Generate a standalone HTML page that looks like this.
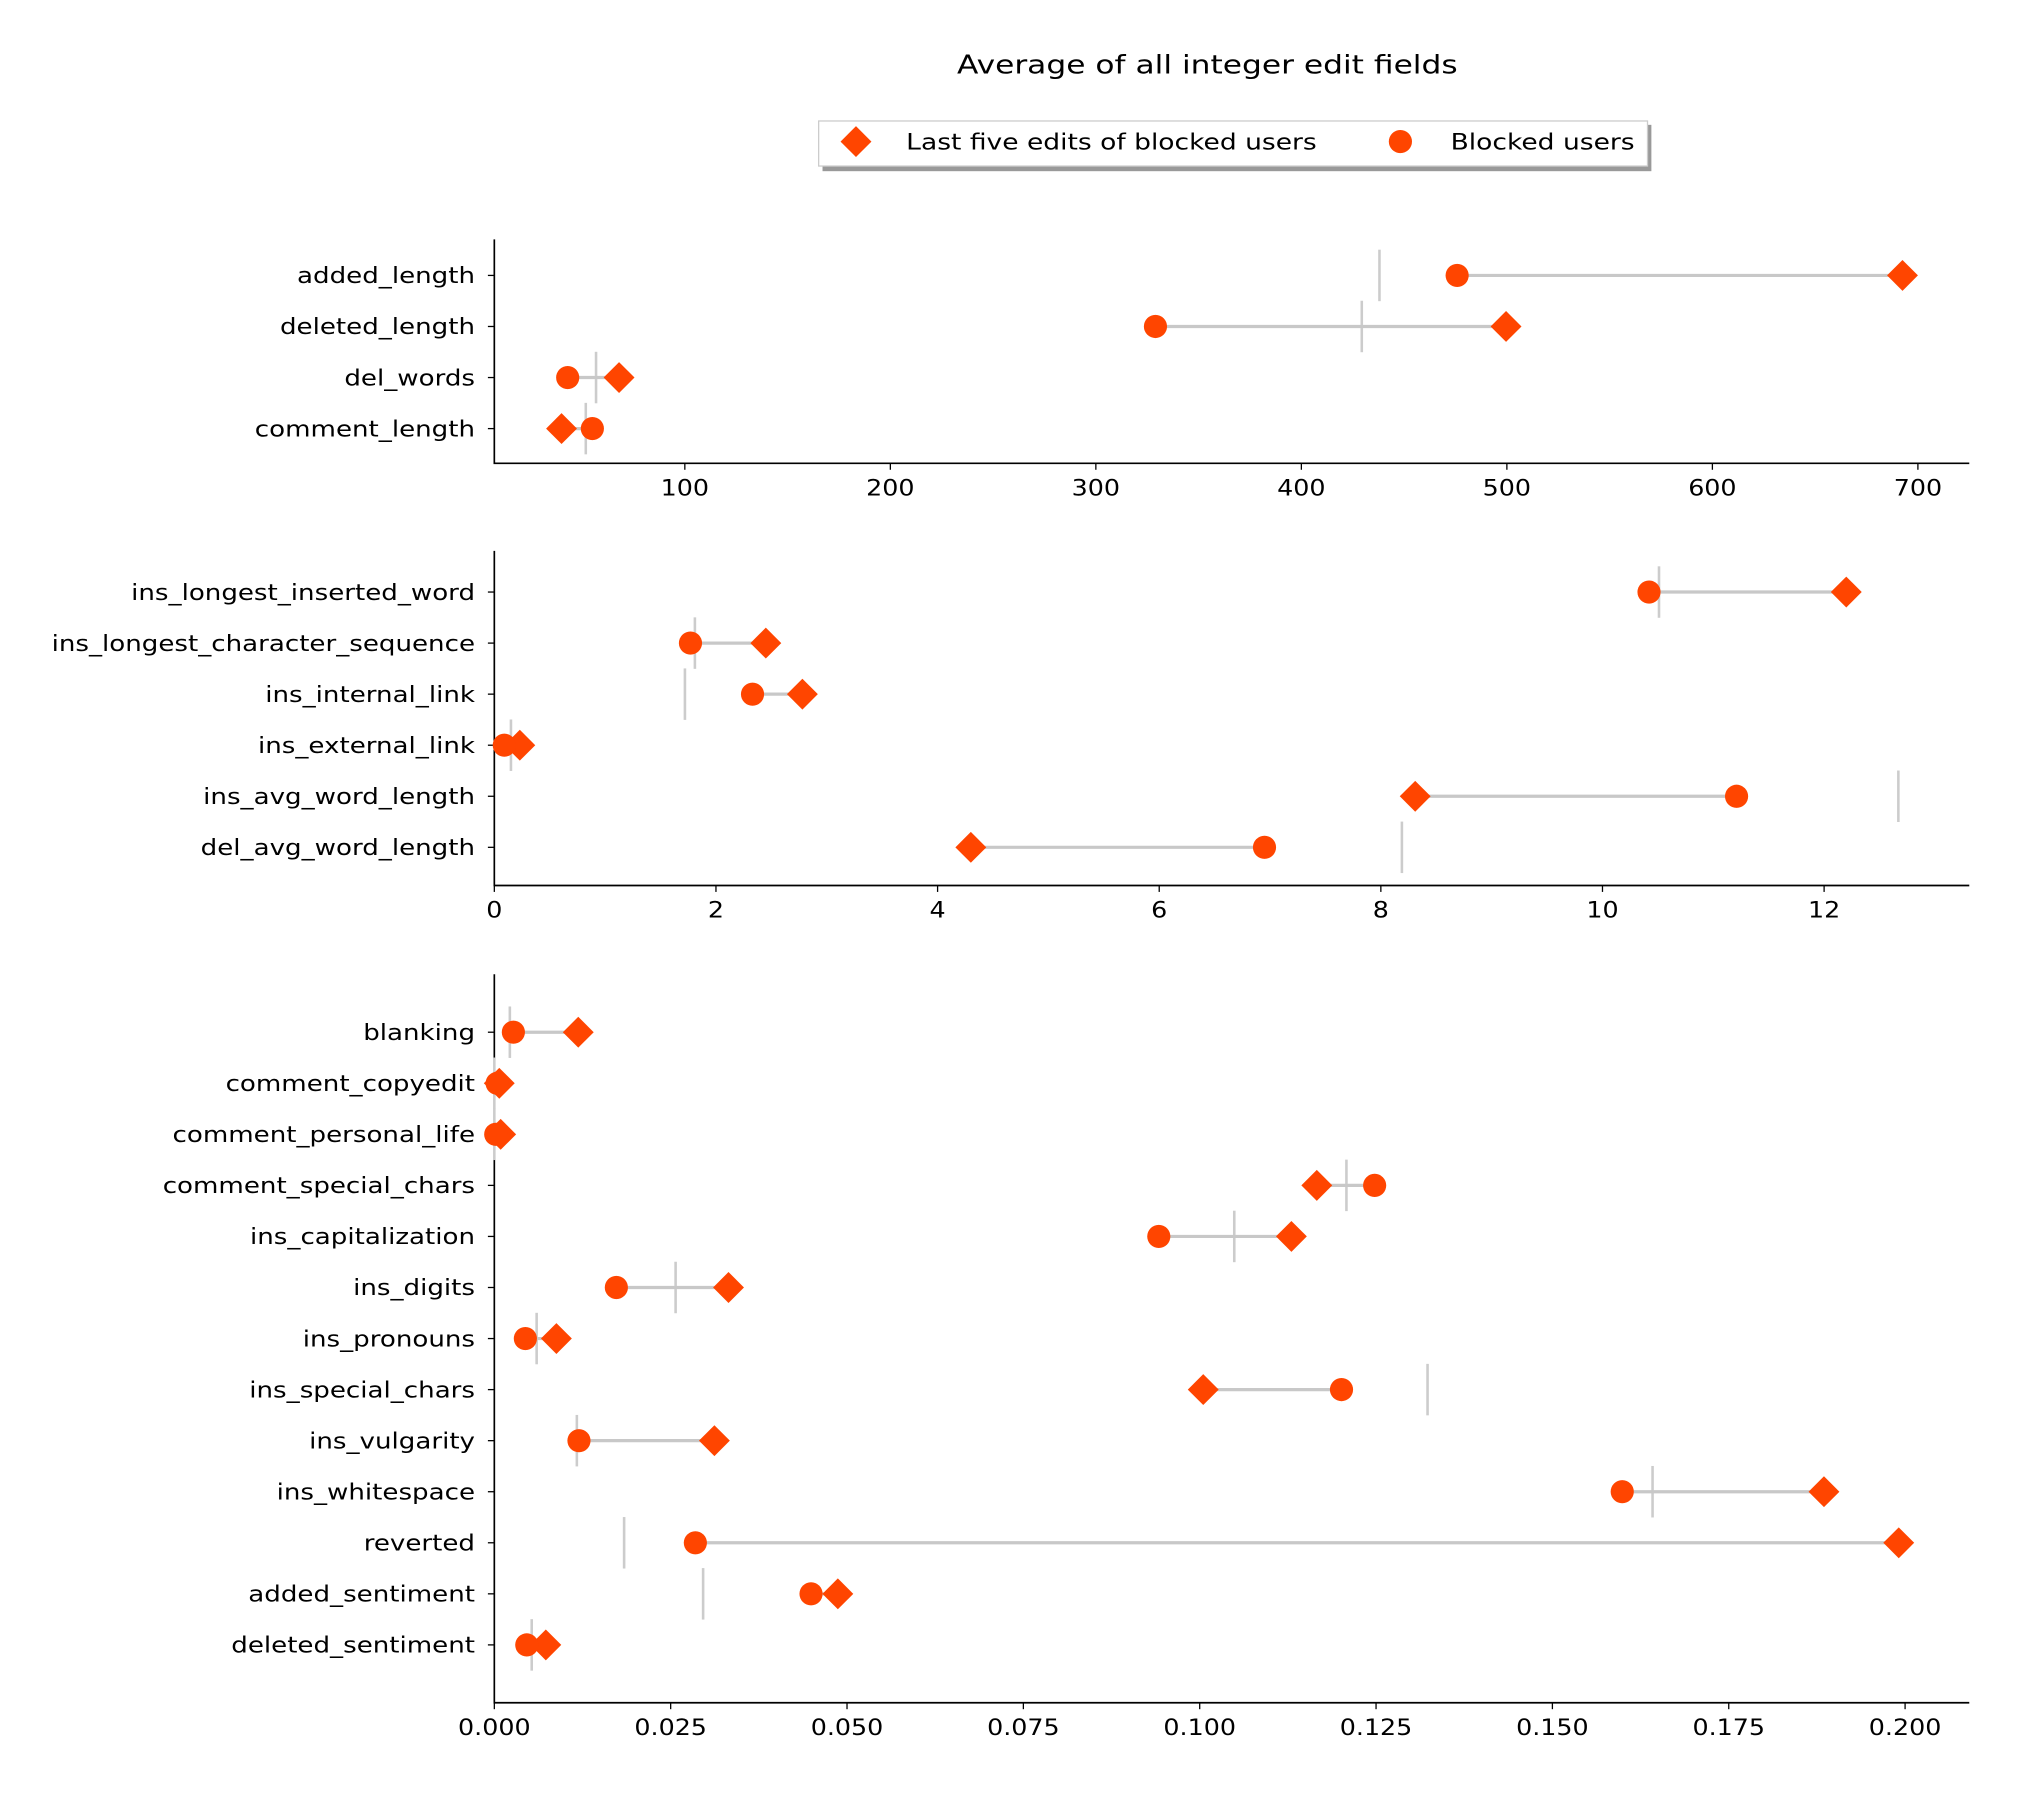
<!DOCTYPE html>
<html><head><meta charset="utf-8"><style>
html,body{margin:0;padding:0;background:#fff}
svg{display:block}
text{font-family:"DejaVu Sans","Liberation Sans",sans-serif;fill:#000}
</style></head><body>
<svg id="chart" width="2017" height="1798" viewBox="0 0 1567 1397" xmlns="http://www.w3.org/2000/svg">
<text id="title" x="938" y="57" font-size="20" text-anchor="middle">Average of all integer edit fields</text>
<g>
<rect x="639" y="97" width="644" height="36" fill="#999"/>
<rect x="636" y="94" width="644" height="35" fill="#fff" stroke="#ccc" stroke-width="1"/>
<path d="M665 98 L677 110 L665 122 L653 110 Z" fill="#ff4500"/>
<text id="leg1" x="704" y="116" font-size="17">Last five edits of blocked users</text>
<circle cx="1088" cy="110" r="9" fill="#ff4500"/>
<text id="leg2" x="1127" y="116" font-size="17">Blocked users</text>
</g>
<g id="plots"></g>
</svg>
<script>
// Panel 1
const p1Labels = ["added_length","deleted_length","del_words","comment_length"];
const p1Blocked = [475.8,329,43,55];
const p1Last = [692.5,499.6,68,40];
const p1Ref = [438,429.4,56.8,51.8];
const p1Ticks = [100,200,300,400,500,600,700];
// Panel 2
const p2Labels = ["ins_longest_inserted_word","ins_longest_character_sequence","ins_internal_link","ins_external_link","ins_avg_word_length","del_avg_word_length"];
const p2Blocked = [10.42,1.77,2.33,0.09,11.21,6.95];
const p2Last = [12.2,2.45,2.78,0.23,8.31,4.30];
const p2Ref = [10.51,1.81,1.72,0.15,12.67,8.19];
const p2Ticks = [0,2,4,6,8,10,12];
// Panel 3
const p3Labels = ["blanking","comment_copyedit","comment_personal_life","comment_special_chars","ins_capitalization","ins_digits","ins_pronouns","ins_special_chars","ins_vulgarity","ins_whitespace","reverted","added_sentiment","deleted_sentiment"];
const p3Blocked = [0.0027,0.0004,0.0002,0.1248,0.0942,0.0173,0.0044,0.1201,0.0120,0.1599,0.0285,0.0449,0.0046];
const p3Last = [0.0119,0.0007,0.0009,0.1166,0.1130,0.0332,0.0088,0.1005,0.0312,0.1885,0.1991,0.0487,0.0073];
const p3Ref = [0.0022,0.0,0.0,0.1208,0.1049,0.0257,0.0060,0.1323,0.0117,0.1642,0.0184,0.0296,0.0053];
const p3Ticks = ["0.000","0.025","0.050","0.075","0.100","0.125","0.150","0.175","0.200"];

const NS="http://www.w3.org/2000/svg";
const root=document.getElementById('plots');
function mk(tag,attrs,parent){const e=document.createElementNS(NS,tag);for(const k in attrs)e.setAttribute(k,attrs[k]);parent.appendChild(e);return e;}
const allText=[];
function panel(id,labels,blocked,last,ref,ticks,xmin,xmax,top,bottom,firstRow,tickFmt){
  const L=384,R=1530,step=39.67;
  const g=mk('g',{},root);
  
  
  const x=v=>L+(v-xmin)/(xmax-xmin)*(R-L);
  const y=i=>firstRow+i*step;
  const ax=mk('path',{d:`M${L} ${top} L${L} ${bottom} L${R} ${bottom}`,fill:'none',stroke:'#000','stroke-width':1.3},g);
  
  
  ticks.forEach(t=>{
    const v=parseFloat(t);const tx=x(v);
    mk('line',{x1:tx,x2:tx,y1:bottom,y2:bottom+5,stroke:'#000','stroke-width':1},g);
    const te=mk('text',{x:tx,y:bottom+25,'font-size':17,'text-anchor':'middle'},g);
    te.textContent=tickFmt?tickFmt(t):String(t);
    
    
    allText.push(te);
  });
  labels.forEach((lab,i)=>{
    const ty=y(i);
    mk('line',{x1:L-5,x2:L,y1:ty,y2:ty,stroke:'#000','stroke-width':1},g);
    const te=mk('text',{x:L-15,y:ty+6,'font-size':17.5,'text-anchor':'end'},g);
    te.textContent=lab;
    
    
    allText.push(te);
    const rl=mk('line',{x1:x(ref[i]),x2:x(ref[i]),y1:ty-20,y2:ty+20,stroke:'#ccc','stroke-width':2},g);
    
    
    const cn=mk('line',{x1:x(blocked[i]),x2:x(last[i]),y1:ty,y2:ty,stroke:'#c8c8c8','stroke-width':2.5},g);
    
    
    const dx=x(last[i]);
    const d=mk('path',{d:`M${dx} ${ty-12} L${dx+12} ${ty} L${dx} ${ty+12} L${dx-12} ${ty} Z`,fill:'#ff4500'},g);
    
    
    const c=mk('circle',{cx:x(blocked[i]),cy:ty,r:9,fill:'#ff4500'},g);
    
    
  });
}
panel('panel-length-fields',p1Labels,p1Blocked,p1Last,p1Ref,p1Ticks,7.3,725,186,360,214,null);
panel('panel-word-fields',p2Labels,p2Blocked,p2Last,p2Ref,p2Ticks,0,13.31,428,688,460,null);
panel('panel-ratio-fields',p3Labels,p3Blocked,p3Last,p3Ref,p3Ticks,0,0.2091,757,1323,802,t=>t);
// widen text to match the reference font's wide glyphs
function stretch(el,w){el.setAttribute('textLength',w);el.setAttribute('lengthAdjust','spacingAndGlyphs');}
let ref=null;allText.forEach(t=>{if(t.textContent==='ins_longest_character_sequence')ref=t;});
const f=ref?329/ref.getComputedTextLength():1.15;
allText.forEach(t=>stretch(t,t.getComputedTextLength()*f));
const ti=document.getElementById('title');stretch(ti,389);
stretch(document.getElementById('leg1'),319);
stretch(document.getElementById('leg2'),143);
</script>
</body></html>
